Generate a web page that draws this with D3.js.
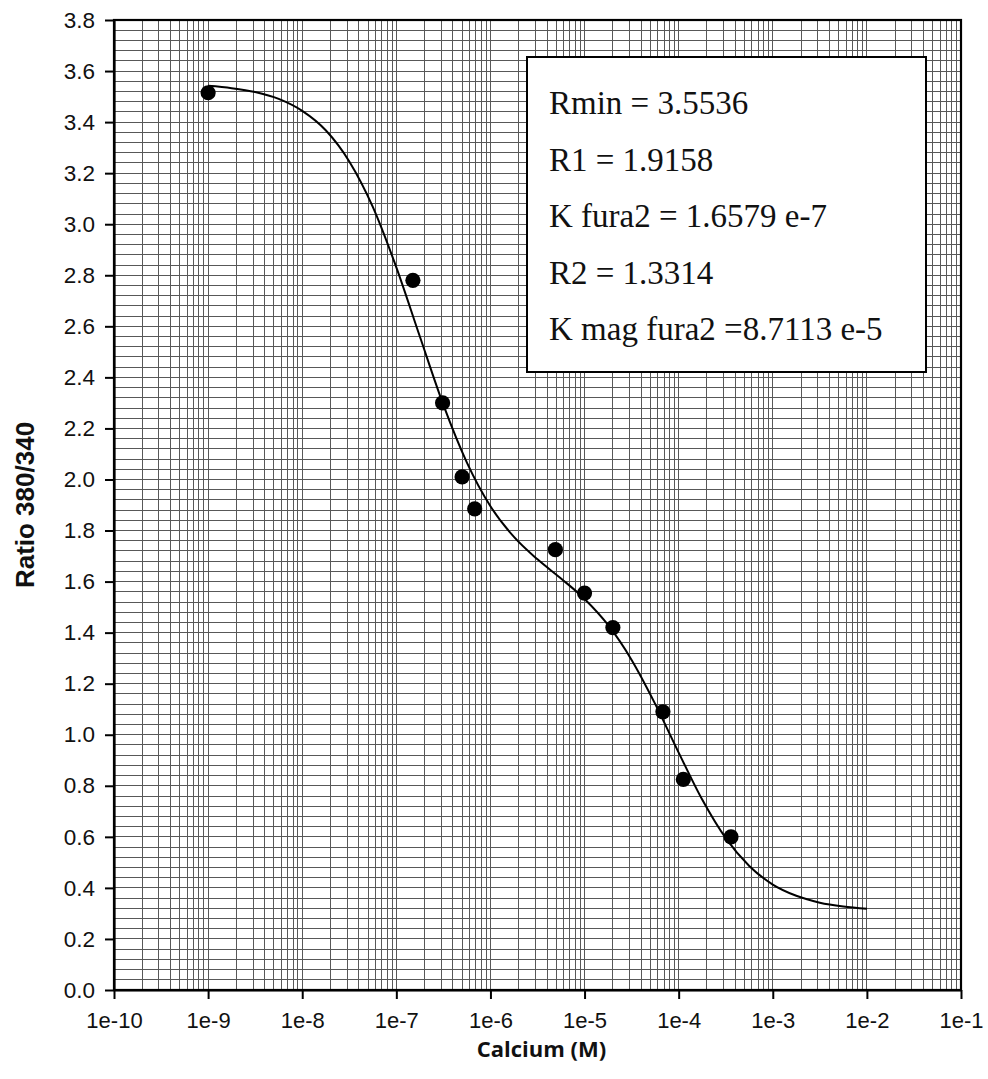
<!DOCTYPE html>
<html>
<head>
<meta charset="utf-8">
<script src="https://cdn.jsdelivr.net/npm/d3@7"></script>
<style>
  html, body { margin: 0; padding: 0; background: #ffffff; }
  svg { display: block; }
</style>
</head>
<body>
<script>
// ---- Data ----
const pointX = [1e-9, 1.5e-7, 3.1e-7, 5e-7, 6.8e-7, 4.9e-6, 1.0e-5, 2.0e-5, 6.8e-5, 1.12e-4, 3.6e-4];
const pointY = [3.515, 2.78, 2.30, 2.01, 1.885, 1.725, 1.555, 1.42, 1.09, 0.825, 0.60];

// fitted curve, read at quarter-decade steps from 1e-9 to 1e-2
const curveX = [1e-9, 1.778e-9, 3.162e-9, 5.623e-9, 1e-8, 1.778e-8, 3.162e-8, 5.623e-8,
                1e-7, 1.778e-7, 3.162e-7, 5.623e-7, 1e-6, 1.778e-6, 3.162e-6, 5.623e-6,
                1e-5, 1.778e-5, 3.162e-5, 5.623e-5, 1e-4, 1.778e-4, 3.162e-4, 5.623e-4,
                1e-3, 1.778e-3, 3.162e-3, 5.623e-3, 1e-2];
const curveY = [3.542, 3.533, 3.518, 3.491, 3.444, 3.368, 3.246, 3.068,
                2.831, 2.560, 2.292, 2.066, 1.895, 1.775, 1.687, 1.612,
                1.532, 1.430, 1.293, 1.121, 0.930, 0.746, 0.595, 0.486,
                0.413, 0.369, 0.342, 0.327, 0.318];

const xTickValues = [1e-10, 1e-9, 1e-8, 1e-7, 1e-6, 1e-5, 1e-4, 1e-3, 1e-2, 1e-1];
const xTickLabels = ["1e-10", "1e-9", "1e-8", "1e-7", "1e-6", "1e-5", "1e-4", "1e-3", "1e-2", "1e-1"];
const yTickValues = [0.0, 0.2, 0.4, 0.6, 0.8, 1.0, 1.2, 1.4, 1.6, 1.8, 2.0, 2.2, 2.4, 2.6, 2.8, 3.0, 3.2, 3.4, 3.6, 3.8];
const yTickLabels = ["0.0", "0.2", "0.4", "0.6", "0.8", "1.0", "1.2", "1.4", "1.6", "1.8", "2.0", "2.2", "2.4", "2.6", "2.8", "3.0", "3.2", "3.4", "3.6", "3.8"];

const legendLines = ["Rmin = 3.5536", "R1 = 1.9158", "K fura2 = 1.6579 e-7", "R2 = 1.3314", "K mag fura2 =8.7113 e-5"];

const xTitle = "Calcium (M)";
const yTitle = "Ratio 380/340";

// ---- Layout ----
const W = 988, H = 1079;
const plot = { left: 114, right: 961, top: 20, bottom: 990 };

const svg = d3.select("body").append("svg").attr("width", W).attr("height", H);
svg.append("rect").attr("width", W).attr("height", H).attr("fill", "#fff");

const x = d3.scaleLog().domain([1e-10, 1e-1]).range([plot.left, plot.right]);
const y = d3.scaleLinear().domain([0, 3.8]).range([plot.bottom, plot.top]);

// ---- Grid ----
const grid = svg.append("g").attr("stroke", "#585858").attr("stroke-width", 1).attr("shape-rendering", "crispEdges");
const vLines = [];
for (let n = -10; n <= -2; n++) for (let k = 1; k <= 9; k++) vLines.push(k * Math.pow(10, n));
grid.selectAll("line.v").data(vLines).join("line").attr("class", "v")
  .attr("x1", d => x(d)).attr("x2", d => x(d)).attr("y1", plot.top).attr("y2", plot.bottom);
const hLines = d3.range(0, 96).map(i => i * 0.04);
grid.selectAll("line.h").data(hLines).join("line").attr("class", "h")
  .attr("y1", d => y(d)).attr("y2", d => y(d)).attr("x1", plot.left).attr("x2", plot.right);

// ---- Frame ----
svg.append("rect").attr("x", plot.left).attr("y", plot.top)
  .attr("width", plot.right - plot.left).attr("height", plot.bottom - plot.top)
  .attr("fill", "none").attr("stroke", "#000").attr("stroke-width", 2.2);

// ---- Axes ----
const xAxis = d3.axisBottom(x).tickValues(xTickValues)
  .tickFormat((d, i) => xTickLabels[i]).tickSize(9).tickPadding(13).tickSizeOuter(0);
const gx = svg.append("g").attr("transform", `translate(0,${plot.bottom})`).call(xAxis);
gx.select(".domain").attr("stroke-width", 2.2);
gx.selectAll(".tick line").attr("stroke-width", 2);
gx.selectAll(".tick text").attr("font-family", "'Liberation Sans', Arial, sans-serif")
  .attr("font-size", 22).attr("fill", "#111");

const yAxis = d3.axisLeft(y).tickValues(yTickValues)
  .tickFormat((d, i) => yTickLabels[i]).tickSize(9).tickPadding(10).tickSizeOuter(0);
const gy = svg.append("g").attr("transform", `translate(${plot.left},0)`).call(yAxis);
gy.select(".domain").attr("stroke-width", 2.2);
gy.selectAll(".tick line").attr("stroke-width", 2);
gy.selectAll(".tick text").attr("font-family", "'Liberation Sans', Arial, sans-serif")
  .attr("font-size", 22.5).attr("fill", "#111");

// ---- Titles ----
svg.append("text").attr("x", (plot.left + plot.right) / 2 + 4).attr("y", 1057)
  .attr("text-anchor", "middle").attr("font-family", "'Open Sans', sans-serif")
  .attr("font-weight", 700).attr("font-size", 22).attr("fill", "#111").text(xTitle);

svg.append("text").attr("transform", `translate(34,${(plot.top + plot.bottom) / 2}) rotate(-90)`)
  .attr("text-anchor", "middle").attr("font-family", "'Liberation Sans', Arial, sans-serif")
  .attr("font-weight", 700).attr("font-size", 26).attr("fill", "#111").text(yTitle);

// ---- Fitted curve ----
const line = d3.line().x(d => x(d[0])).y(d => y(d[1])).curve(d3.curveMonotoneX);
svg.append("path").datum(curveX.map((cx, i) => [cx, curveY[i]]))
  .attr("d", line).attr("fill", "none").attr("stroke", "#000").attr("stroke-width", 2);

// ---- Points ----
svg.append("g").selectAll("circle").data(pointX.map((px, i) => [px, pointY[i]])).join("circle")
  .attr("cx", d => x(d[0])).attr("cy", d => y(d[1])).attr("r", 7.6).attr("fill", "#000");

// ---- Legend box ----
const box = { x: 527, y: 57, w: 399, h: 315 };
svg.append("rect").attr("x", box.x).attr("y", box.y).attr("width", box.w).attr("height", box.h)
  .attr("fill", "#fff").attr("stroke", "#000").attr("stroke-width", 2);
svg.append("g").selectAll("text").data(legendLines).join("text")
  .attr("x", box.x + 22).attr("y", (d, i) => 114 + i * 56.6)
  .attr("font-family", "'Liberation Serif', 'Times New Roman', serif")
  .attr("font-size", 33).attr("fill", "#111").text(d => d);
</script>
</body>
</html>
